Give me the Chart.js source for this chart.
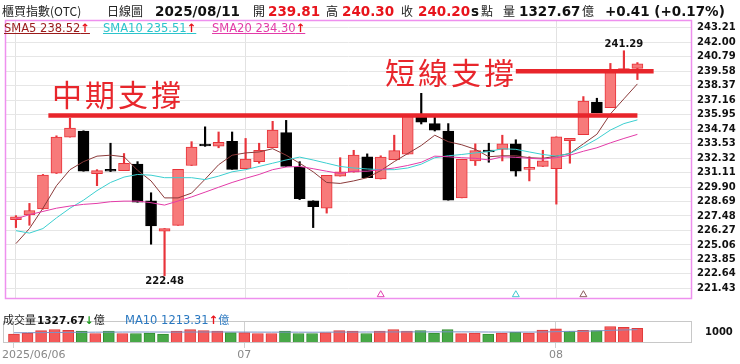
<!DOCTYPE html>
<html>
<head>
<meta charset="utf-8">
<script src="https://cdn.jsdelivr.net/npm/chart.js@4.4.0/dist/chart.umd.min.js"></script>
<style>
  html, body { margin: 0; padding: 0; background: #fff; }
  #wrap { position: relative; width: 740px; height: 364px; overflow: hidden; }
  canvas { position: absolute; left: 0; }
  #main { top: 0; }
  #vol { top: 310px; }
  .t { position: absolute; white-space: nowrap; line-height: 16px; }
  .cj { font-family: "Noto Sans CJK TC", sans-serif; font-size: 12px; color: #222; }
  .b { font-family: "DejaVu Sans", sans-serif; font-weight: bold; font-size: 13.5px; color: #111; }
  .red { color: #E8141C; }
  .lg { position: absolute; top: 21px; line-height: 14px; font-family: "DejaVu Sans", sans-serif; font-size: 11.5px; text-decoration: underline; white-space: nowrap; }
  .up { color: #E8141C; font-weight: bold; }
  .note { position: absolute; font-family: "Noto Sans CJK TC", sans-serif; font-size: 30px; line-height: 30px; letter-spacing: 3px; color: #E8262C; white-space: nowrap; }
  .vl { position: absolute; top: 312px; line-height: 14px; white-space: nowrap; }
  .xl { position: absolute; top: 348px; line-height: 14px; font-family: "DejaVu Sans", sans-serif; font-size: 11px; color: #888; white-space: nowrap; }
</style>
</head>
<body>
<div id="wrap">
  <canvas id="main" width="740" height="310"></canvas>
  <canvas id="vol" width="740" height="54"></canvas>

  <span class="t cj" style="left:2px;top:3px">櫃買指數(OTC)</span>
  <span class="t cj" style="left:107px;top:3px">日線圖</span>
  <span class="t b" style="left:155px;top:3px" id="hDate"></span>
  <span class="t cj" style="left:253px;top:3px">開</span>
  <span class="t b red" style="left:268px;top:3px" id="hOpen"></span>
  <span class="t cj" style="left:326px;top:3px">高</span>
  <span class="t b red" style="left:342px;top:3px" id="hHigh"></span>
  <span class="t cj" style="left:401px;top:3px">收</span>
  <span class="t b red" style="left:418px;top:3px" id="hClose"></span>
  <span class="t b" style="left:471px;top:3px">s</span>
  <span class="t cj" style="left:481px;top:3px">點</span>
  <span class="t cj" style="left:503px;top:3px">量</span>
  <span class="t b" style="left:519px;top:3px" id="hVol"></span>
  <span class="t cj" style="left:582px;top:3px">億</span>
  <span class="t b" style="left:605px;top:3px" id="hChg"></span>

  <span class="lg" style="left:4px;color:#9A1B1B" id="lg5"></span>
  <span class="lg" style="left:103px;color:#2CC4CC" id="lg10"></span>
  <span class="lg" style="left:212px;color:#E33BA8" id="lg20"></span>

  <span class="note" style="left:52px;top:78px">中期支撐</span>
  <span class="note" style="left:385px;top:56px">短線支撐</span>

  <span class="vl cj" style="left:3px;font-size:11px">成交量</span>
  <span class="vl" style="left:37px;font-family:'DejaVu Sans';font-weight:bold;font-size:10.5px;color:#111" id="vVol"></span>
  <span class="vl" style="left:125px;font-family:'DejaVu Sans';font-size:11.5px;color:#2A78C0" id="vMa"></span>
</div>

<script>
// 2025/06/06 ~ 2025/08/11 daily candles
const headerDate = "2025/08/11";
const dateLabels = ["2025/06/06", "07", "08"];
const dateIdx = [0, 17, 40];

const opens = [227.18, 227.56, 228.07, 231.05, 234.07, 234.58, 231.01, 231.28, 231.27, 231.81,
  228.75, 226.21, 226.70, 231.70, 233.38, 233.32, 233.72, 231.43, 232.02, 233.18,
  234.44, 231.54, 228.75, 228.13, 230.81, 231.14, 232.43, 230.57, 232.18, 232.64,
  235.73, 235.20, 234.58, 228.99, 232.08, 232.89, 233.05, 233.51, 231.38, 231.62,
  231.43, 233.77, 234.28, 237.00, 236.54, 239.58, 239.81];
const highs = [227.51, 228.53, 230.95, 234.18, 235.65, 234.60, 231.35, 233.56, 232.70, 232.02,
  229.42, 226.43, 231.38, 233.69, 234.93, 234.50, 234.50, 233.96, 233.56, 235.39,
  235.47, 232.02, 228.75, 230.87, 232.35, 232.97, 232.67, 232.51, 234.23, 235.87,
  237.73, 235.73, 235.20, 232.22, 233.51, 233.56, 234.23, 233.85, 232.43, 232.97,
  234.10, 233.96, 237.46, 237.32, 240.23, 241.29, 240.30];
const lows = [226.51, 226.70, 228.05, 231.03, 234.07, 231.22, 230.01, 231.19, 231.27, 228.63,
  225.12, 222.48, 226.70, 231.70, 233.30, 233.18, 231.38, 231.43, 231.89, 233.18,
  231.62, 228.85, 226.51, 227.72, 230.81, 231.14, 230.68, 230.57, 232.18, 232.64,
  235.17, 234.58, 228.80, 228.99, 231.70, 231.97, 232.08, 230.81, 230.41, 231.62,
  228.47, 231.89, 234.28, 236.11, 236.54, 239.58, 238.88];
const closes = [227.40, 227.94, 230.89, 234.07, 234.82, 231.22, 231.27, 231.22, 231.89, 228.63,
  226.65, 226.43, 231.38, 233.23, 233.33, 233.64, 231.38, 232.24, 232.97, 234.66,
  231.62, 228.93, 228.26, 230.87, 231.17, 232.56, 230.68, 232.40, 232.94, 235.83,
  235.33, 234.66, 228.80, 232.22, 232.94, 232.83, 233.51, 231.22, 231.49, 232.08,
  234.10, 233.96, 237.08, 236.11, 239.56, 239.79, 240.20];

const sma5 = [225.17, 226.43, 228.13, 230.01, 231.35, 232.02, 232.48, 232.56, 232.43, 231.30,
  230.41, 228.99, 228.99, 229.39, 230.55, 231.76, 232.56, 232.75, 232.83, 233.10,
  232.56, 231.89, 231.17, 230.28, 230.20, 230.41, 230.68, 231.27, 232.02, 232.70,
  233.37, 234.23, 233.69, 233.43, 233.05, 232.43, 232.51, 232.51, 232.35, 232.30,
  232.48, 232.70, 233.51, 234.31, 236.01, 237.27, 238.52];
const sma10 = [226.25, 226.05, 226.43, 227.32, 228.13, 228.80, 229.60, 230.28, 230.73, 230.95,
  230.89, 230.68, 230.68, 230.68, 230.52, 230.81, 231.17, 231.35, 231.62, 231.89,
  232.16, 232.40, 232.16, 231.89, 231.62, 231.49, 231.41, 231.35, 231.35, 231.49,
  231.81, 232.35, 232.51, 232.62, 232.75, 232.86, 233.10, 233.05, 232.83, 232.62,
  232.48, 232.70, 233.29, 233.91, 234.66, 235.20, 235.51];
const sma20 = [227.24, 227.59, 227.86, 228.13, 228.31, 228.45, 228.53, 228.67, 228.72, 228.72,
  228.59, 228.39, 228.73, 229.07, 229.47, 229.88, 230.28, 230.63, 230.95, 231.35,
  231.57, 231.62, 231.43, 231.22, 231.03, 231.22, 231.22, 231.35, 231.49, 231.70,
  231.97, 232.48, 232.43, 232.35, 232.30, 232.16, 232.43, 232.38, 232.30, 232.24,
  232.35, 232.56, 232.89, 233.18, 233.59, 233.96, 234.30];

// 成交量 (億)
const volumes = [803, 910, 1119, 1226, 1163, 1074, 866, 1074, 866, 866,
  910, 803, 1074, 1226, 1119, 1074, 948, 948, 866, 866,
  1074, 866, 866, 948, 1119, 1074, 866, 1074, 1226, 1074,
  1119, 910, 1226, 847, 910, 803, 910, 973, 910, 1182,
  1289, 1074, 1163, 1119, 1498, 1435, 1327.67];
const volMa10 = [930, 935, 945, 955, 965, 975, 985, 990, 995, 1000,
  1000, 995, 990, 995, 1000, 1005, 1000, 995, 990, 985,
  990, 985, 980, 985, 990, 995, 1000, 1000, 1005, 1010,
  1010, 1010, 1015, 1010, 1005, 1000, 995, 995, 995, 1000,
  1030, 1050, 1070, 1100, 1150, 1185, 1213.31];

const priceTicks = [243.21, 242.00, 240.79, 239.58, 238.37, 237.16, 235.95, 234.74, 233.53,
  232.32, 231.11, 229.90, 228.69, 227.48, 226.27, 225.06, 223.85, 222.64, 221.43];
const volTicks = [1000];

// 支撐線
const supportLevels = [235.88, 239.58];
const supportFrom = [2.4, 37];
const supportTo = [46, 47.2];

// 均線交叉標記
const markerIdx = [27, 37, 42];
const markerColors = ["#E040B0", "#40C8D0", "#8A5A5A"];

const RED = "#E8333A";
Chart.defaults.font.family = "'DejaVu Sans', sans-serif";

const idx = closes.map((_, i) => i);
const pts = (arr) => arr.map((v, i) => ({ x: i, y: v }));
const isUp = closes.map((c, i) => c >= opens[i]);
const volUp = closes.map((c, i) => i === 0 || c >= closes[i - 1]);

const xMin = -0.81;
const xMax = 50.04;

const framePlugin = {
  id: "frame",
  afterDatasetsDraw(chart, args, opts) {
    const { ctx, chartArea: a } = chart;
    ctx.save();
    ctx.strokeStyle = opts.color;
    ctx.lineWidth = opts.width;
    ctx.strokeRect(a.left + 0.5, a.top + 0.5, a.right - a.left - 1, a.bottom - a.top - 1);
    ctx.restore();
  },
};

const extremesPlugin = {
  id: "extremes",
  afterDatasetsDraw(chart) {
    const { ctx, scales: { x, y } } = chart;
    const hi = Math.max(...highs);
    const lo = Math.min(...lows);
    ctx.save();
    ctx.font = "bold 10px 'DejaVu Sans'";
    ctx.fillStyle = "#111";
    ctx.textAlign = "center";
    ctx.textBaseline = "bottom";
    ctx.fillText(hi.toFixed(2), x.getPixelForValue(highs.indexOf(hi)), y.getPixelForValue(hi) - 1);
    ctx.textBaseline = "top";
    ctx.fillText(lo.toFixed(2), x.getPixelForValue(lows.indexOf(lo)), y.getPixelForValue(lo) + 1);
    ctx.restore();
  },
};

const supportSets = supportLevels.map((lv, k) => ({
  type: "line",
  data: [{ x: supportFrom[k], y: lv }, { x: supportTo[k], y: lv }],
  borderColor: "#E8252B",
  borderWidth: 4.5,
  pointRadius: 0,
  order: 0,
}));

const mainChart = new Chart(document.getElementById("main"), {
  data: {
    datasets: [
      {
        type: "bar",
        data: idx.map((i) => ({ x: i, y: [lows[i], highs[i]] })),
        backgroundColor: isUp.map((u) => (u ? RED : "#000")),
        barThickness: 1.5,
        grouped: false,
        order: 3,
      },
      {
        type: "bar",
        data: idx.map((i) => ({ x: i, y: [opens[i], closes[i]] })),
        backgroundColor: isUp.map((u) => (u ? "#F77A7A" : "#000")),
        borderColor: isUp.map((u) => (u ? RED : "#000")),
        borderWidth: 1,
        borderSkipped: false,
        barThickness: 11,
        minBarLength: 2,
        grouped: false,
        order: 2,
      },
      { type: "line", data: pts(sma20), borderColor: "#E33BA8", borderWidth: 1, pointRadius: 0, order: 1 },
      { type: "line", data: pts(sma10), borderColor: "#3CCFD0", borderWidth: 1, pointRadius: 0, order: 1 },
      { type: "line", data: pts(sma5), borderColor: "#8B3A3A", borderWidth: 1, pointRadius: 0, order: 1 },
      ...supportSets,
      {
        type: "line",
        data: markerIdx.map((i) => ({ x: i, y: 220.9 })),
        showLine: false,
        pointStyle: "triangle",
        pointRadius: 4,
        pointBorderWidth: 1,
        pointBorderColor: markerColors,
        pointBackgroundColor: "rgba(0,0,0,0)",
        order: 0,
      },
    ],
  },
  options: {
    responsive: false,
    animation: false,
    layout: { padding: { top: 20, left: 3, right: 0, bottom: 1 } },
    plugins: {
      legend: { display: false },
      tooltip: { enabled: false },
      frame: { color: "#EE90EE", width: 1.5 },
    },
    scales: {
      x: {
        type: "linear",
        min: xMin,
        max: xMax,
        offset: false,
        afterBuildTicks: (s) => { s.ticks = dateIdx.map((v) => ({ value: v })); },
        afterFit: (s) => { s.height = 0; },
        ticks: { display: false },
        grid: { color: "#E2E2E2", drawTicks: false, offset: false },
        border: { display: false },
      },
      y: {
        position: "right",
        min: 220.54,
        max: 243.86,
        afterBuildTicks: (s) => { s.ticks = priceTicks.map((v) => ({ value: v })); },
        afterFit: (s) => { s.width = 48; },
        ticks: {
          color: "#111",
          padding: 5,
          font: { size: 10, weight: "bold" },
          callback: (v) => Number(v).toFixed(2),
        },
        grid: { color: "#E6E6E6", drawTicks: false },
        border: { display: false },
      },
    },
  },
  plugins: [framePlugin, extremesPlugin],
});

const volChart = new Chart(document.getElementById("vol"), {
  data: {
    datasets: [
      {
        type: "bar",
        data: idx.map((i) => ({ x: i, y: volumes[i] })),
        backgroundColor: volUp.map((u) => (u ? "#F45A5A" : "#48A848")),
        borderColor: volUp.map((u) => (u ? "#E03A3A" : "#2F8F2F")),
        borderWidth: 1,
        borderSkipped: false,
        barThickness: 11,
        order: 2,
      },
      { type: "line", data: pts(volMa10), borderColor: "#7B93C6", borderWidth: 1, pointRadius: 0, order: 1 },
    ],
  },
  options: {
    responsive: false,
    animation: false,
    layout: { padding: { top: 1, left: 3, right: 0, bottom: 0 } },
    plugins: {
      legend: { display: false },
      tooltip: { enabled: false },
      frame: { color: "#C8C8C8", width: 1 },
    },
    scales: {
      x: {
        type: "linear",
        min: xMin,
        max: xMax,
        offset: false,
        afterBuildTicks: (s) => { s.ticks = dateIdx.map((v) => ({ value: v })); },
        afterFit: (s) => { s.height = 21; },
        ticks: { display: false },
        grid: { color: "#D0D0D0", drawTicks: true, tickLength: 5, offset: false },
        border: { display: false },
      },
      y: {
        position: "right",
        min: 0,
        max: 2000,
        afterBuildTicks: (s) => { s.ticks = volTicks.map((v) => ({ value: v })); },
        afterFit: (s) => { s.width = 48; },
        ticks: {
          color: "#111",
          padding: 5,
          font: { size: 10, weight: "bold" },
          callback: (v) => String(v),
        },
        grid: { display: false },
        border: { display: false },
      },
    },
  },
  plugins: [framePlugin],
});

// header / legends from data
const last = closes.length - 1;
const chg = closes[last] - closes[last - 1];
const sign = (v) => (v >= 0 ? "+" : "");
document.getElementById("hDate").textContent = headerDate;
document.getElementById("hOpen").textContent = opens[last].toFixed(2);
document.getElementById("hHigh").textContent = highs[last].toFixed(2);
document.getElementById("hClose").textContent = closes[last].toFixed(2);
document.getElementById("hVol").textContent = volumes[last].toFixed(2);
document.getElementById("hChg").textContent =
  sign(chg) + chg.toFixed(2) + " (" + sign(chg) + ((chg / closes[last - 1]) * 100).toFixed(2) + "%)";
document.getElementById("lg5").innerHTML = "SMA5 " + sma5[last].toFixed(2) + '<span class="up">↑</span>';
document.getElementById("lg10").innerHTML = "SMA10 " + sma10[last].toFixed(2) + '<span class="up">↑</span>';
document.getElementById("lg20").innerHTML = "SMA20 " + sma20[last].toFixed(2) + '<span class="up">↑</span>';
document.getElementById("vVol").innerHTML =
  volumes[last].toFixed(2) + '<span style="color:#1A9A1A">↓</span><span style="font-family:\'Noto Sans CJK TC\';font-weight:normal;font-size:11px">億</span>';
document.getElementById("vMa").innerHTML =
  "MA10 " + volMa10[last].toFixed(2) + '<span class="up">↑</span><span style="font-family:\'Noto Sans CJK TC\';font-size:11px">億</span>';

// x axis date labels under the volume panel
const wrap = document.getElementById("wrap");
dateLabels.forEach((txt, k) => {
  const el = document.createElement("span");
  el.className = "xl";
  el.textContent = txt;
  wrap.appendChild(el);
  const px = volChart.scales.x.getPixelForValue(dateIdx[k]);
  el.style.left = Math.max(2, px - el.offsetWidth / 2) + "px";
});
</script>
</body>
</html>
